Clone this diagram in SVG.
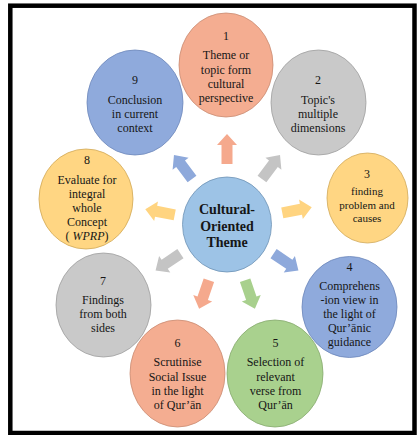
<svg xmlns="http://www.w3.org/2000/svg" xmlns:xlink="http://www.w3.org/1999/xlink" width="417" height="435" viewBox="0 0 417 435">
<style>
text{font-family:'Liberation Serif','Times New Roman','DejaVu Serif',serif}
.t{font-size:12px;fill:#161616;text-anchor:middle}
.s{font-size:11px}
.c{font-size:14px;font-weight:bold;fill:#161616;text-anchor:middle}
.n{stroke-width:0.8}
.or{fill:#F4AD91;stroke:#C98B72}
.gr{fill:#C9C9C9;stroke:#9E9E9E}
.ye{fill:#FFD683;stroke:#D0A857}
.bl{fill:#8FAADC;stroke:#6C87BA}
.gn{fill:#A9D18E;stroke:#86A96E}
.ce{fill:#9DC3E6;stroke:#6F93B5}
.aor{fill:#F5A98D}
.agr{fill:#C4C4C4}
.aye{fill:#FFD480}
.abl{fill:#8EA9DB}
.agn{fill:#A8D08D}
</style>
<defs>
<path id="arr" d="M-15,-5.5 L4,-5.5 L4,-10 L15,0 L4,10 L4,5.5 L-15,5.5 Z"/>
</defs>
<rect x="10.3" y="5.7" width="404.2" height="427.3" fill="#fff" stroke="#000" stroke-width="4.5"/>
<g id="connectors">
<use xlink:href="#arr" class="aor" transform="translate(227,149) rotate(-90)"/>
<use xlink:href="#arr" class="agr" transform="translate(271,167) rotate(-53)"/>
<use xlink:href="#arr" class="aye" transform="translate(297,210) rotate(-11)"/>
<use xlink:href="#arr" class="abl" transform="translate(286,262) rotate(34)"/>
<use xlink:href="#arr" class="agn" transform="translate(250,294.5) rotate(71)"/>
<use xlink:href="#arr" class="aor" transform="translate(204,294.5) rotate(109)"/>
<use xlink:href="#arr" class="agr" transform="translate(168,262) rotate(146)"/>
<use xlink:href="#arr" class="aye" transform="translate(160,212) rotate(191)"/>
<use xlink:href="#arr" class="abl" transform="translate(183,167) rotate(233)"/>
</g>
<g id="node1" font-family="Liberation Serif, serif">
<ellipse class="n or" cx="226" cy="65" rx="47" ry="52"/>
<text class="t" x="226" y="40">1</text>
<text class="t" x="226" y="59">Theme or</text>
<text class="t" x="226" y="73.5">topic form</text>
<text class="t" x="226" y="88">cultural</text>
<text class="t" x="226" y="102">perspective</text>
</g>
<g id="node2" font-family="Liberation Serif, serif">
<ellipse class="n gr" cx="318.5" cy="102.5" rx="47.5" ry="52.5"/>
<text class="t" x="318" y="84">2</text>
<text class="t" x="318" y="103.5">Topic's</text>
<text class="t" x="318" y="117.5">multiple</text>
<text class="t" x="318" y="131.5">dimensions</text>
</g>
<g id="node3" font-family="Liberation Serif, serif">
<ellipse class="n ye" cx="367.5" cy="198" rx="40.5" ry="45"/>
<text class="t" x="367" y="178">3</text>
<text class="t s" x="367" y="195">finding</text>
<text class="t s" x="367" y="208.5">problem and</text>
<text class="t s" x="367" y="222">causes</text>
</g>
<g id="node4" font-family="Liberation Serif, serif">
<ellipse class="n bl" cx="349.5" cy="307" rx="47.5" ry="50.5"/>
<text class="t" x="349.5" y="270.5">4</text>
<text class="t" x="349.5" y="289.5">Comprehens</text>
<text class="t" x="349.5" y="304">-ion view in</text>
<text class="t" x="349.5" y="318">the light of</text>
<text class="t" x="349.5" y="332">Qur’ānic</text>
<text class="t" x="349.5" y="346">guidance</text>
</g>
<g id="node5" font-family="Liberation Serif, serif">
<ellipse class="n gn" cx="275" cy="373.5" rx="48" ry="53.5"/>
<text class="t" x="275.5" y="346.5">5</text>
<text class="t" x="275.5" y="366">Selection of</text>
<text class="t" x="275.5" y="381">relevant</text>
<text class="t" x="275.5" y="395">verse from</text>
<text class="t" x="275.5" y="409">Qur’ān</text>
</g>
<g id="node6" font-family="Liberation Serif, serif">
<ellipse class="n or" cx="177.5" cy="373.5" rx="47.5" ry="53.5"/>
<text class="t" x="177.5" y="346.5">6</text>
<text class="t" x="177.5" y="366">Scrutinise</text>
<text class="t" x="177.5" y="381">Social Issue</text>
<text class="t" x="177.5" y="395">in the light</text>
<text class="t" x="177.5" y="409">of Qur’ān</text>
</g>
<g id="node7" font-family="Liberation Serif, serif">
<ellipse class="n gr" cx="103.5" cy="305" rx="47.5" ry="52"/>
<text class="t" x="103" y="284.5">7</text>
<text class="t" x="103" y="304">Findings</text>
<text class="t" x="103" y="318">from both</text>
<text class="t" x="103" y="332">sides</text>
</g>
<g id="node8" font-family="Liberation Serif, serif">
<ellipse class="n ye" cx="86" cy="199" rx="47" ry="50"/>
<text class="t" x="87" y="163.5">8</text>
<text class="t" x="87" y="183.5">Evaluate for</text>
<text class="t" x="87" y="197.5">integral</text>
<text class="t" x="87" y="211.5">whole</text>
<text class="t" x="87" y="225.5">Concept</text>
<text class="t" x="87" y="239.5">( <tspan font-style="italic">WPRP</tspan>)</text>
</g>
<g id="node9" font-family="Liberation Serif, serif">
<ellipse class="n bl" cx="135" cy="102.5" rx="48" ry="52.5"/>
<text class="t" x="135" y="84">9</text>
<text class="t" x="135" y="103.5">Conclusion</text>
<text class="t" x="135" y="117.5">in current</text>
<text class="t" x="135" y="131.5">context</text>
</g>
<g id="center" font-family="Liberation Serif, serif">
<ellipse class="n ce" cx="227" cy="224.5" rx="44.5" ry="47.5"/>
<text class="c" x="227" y="214">Cultural-</text>
<text class="c" x="227" y="230.5">Oriented</text>
<text class="c" x="227" y="247">Theme</text>
</g>
</svg>
